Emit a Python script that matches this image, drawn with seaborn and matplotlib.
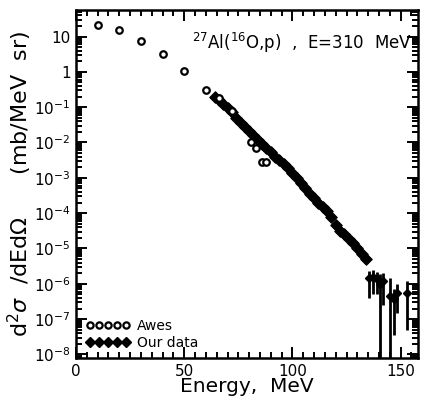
import numpy as np
import pandas as pd
import matplotlib
matplotlib.use("Agg")
import matplotlib.pyplot as plt
from matplotlib.ticker import FixedLocator, MultipleLocator, LogLocator, FuncFormatter, NullFormatter
from matplotlib.lines import Line2D
import seaborn as sns

# Awes et al. spectrum (open circles)
awes_energy = [10, 20, 30, 40, 50, 60, 66, 72, 81, 83, 86, 88]
awes_xsec = [21.0, 15.7, 7.3, 3.2, 1.07, 0.30, 0.18, 0.079, 0.0105, 0.0068, 0.0028, 0.0028]

# Present measurement, dense part of the spectrum (filled diamonds)
our_energy = [64, 66, 68, 70, 72, 74, 76, 78, 80, 82, 84, 86, 88, 90, 92, 94, 96, 98,
              100, 102, 104, 106, 108, 110, 112, 114, 116, 118, 120, 122, 124, 126,
              128, 130, 132, 134]
our_xsec = [0.195, 0.158, 0.120, 0.093, 0.071, 0.050, 0.035, 0.0275, 0.021, 0.0166,
            0.0120, 0.0089, 0.0068, 0.0054, 0.0040, 0.0032, 0.00245, 0.00186,
            0.00138, 1.0e-3, 7.2e-4, 5.0e-4, 3.5e-4, 2.6e-4, 1.9e-4, 1.45e-4,
            1.15e-4, 7.9e-5, 4.5e-5, 3.2e-5, 2.5e-5, 1.9e-5, 1.4e-5, 1.0e-5,
            7.1e-6, 5.0e-6]

# Present measurement, high-energy tail with error bars
tail_energy = [135.5, 137.0, 139.0, 140.5, 142.0, 145.0, 147.0, 148.5, 153.0]
tail_xsec = [1.5e-6, 1.6e-6, 1.4e-6, 1.0e-6, 1.2e-6, 4.5e-7, 3.6e-7, 5.5e-7, 5.5e-7]
tail_low = [4.0e-7, 5.0e-7, 5.0e-7, 1.0e-9, 2.5e-7, 1.0e-9, 3.5e-8, 1.5e-7, 5.0e-8]
tail_high = [2.3e-6, 2.4e-6, 2.2e-6, 1.9e-6, 2.0e-6, 1.5e-6, 7.0e-7, 1.0e-6, 1.2e-6]

y_major = [1e-8, 1e-7, 1e-6, 1e-5, 1e-4, 1e-3, 1e-2, 1e-1, 1, 10]
x_major = [0, 50, 100, 150]

sns.set_style("ticks")
plt.rcParams["font.family"] = ["DejaVu Sans"]
plt.rcParams.update({"text.color": "black", "axes.labelcolor": "black",
                     "xtick.color": "black", "ytick.color": "black"})

fig = plt.figure(figsize=(4.26, 3.97), dpi=100)
ax = fig.add_axes([0.1784, 0.0982, 0.8028, 0.8766])

awes = pd.DataFrame({"E": awes_energy, "xs": awes_xsec})
ours = pd.DataFrame({"E": our_energy, "xs": our_xsec})

sns.scatterplot(data=ours, x="E", y="xs", ax=ax, marker="D", s=34,
                color="black", edgecolor="black", linewidth=0.8, zorder=3)
sns.scatterplot(data=awes, x="E", y="xs", ax=ax, marker="o", s=22,
                facecolor="white", edgecolor="black", linewidth=1.6, zorder=4)

tail_xsec_a = np.array(tail_xsec)
yerr = [tail_xsec_a - np.array(tail_low), np.array(tail_high) - tail_xsec_a]
ax.errorbar(tail_energy, tail_xsec, yerr=yerr, fmt="D", ms=4, color="black",
            ecolor="black", elinewidth=2.0, capsize=0, zorder=3)

ax.set_yscale("log")
ax.set_xlim(0, 158)
ax.set_ylim(10 ** -8.1, 10 ** 1.75)

ax.xaxis.set_major_locator(FixedLocator(x_major))
ax.xaxis.set_minor_locator(MultipleLocator(5))
ax.yaxis.set_major_locator(FixedLocator(y_major))
ax.yaxis.set_minor_locator(LogLocator(base=10, subs=np.arange(2, 10), numticks=20))
ax.yaxis.set_minor_formatter(NullFormatter())


def ylab(v, pos):
    e = int(round(np.log10(v)))
    if e == 0:
        return "1"
    if e == 1:
        return "10"
    return r"$10^{%d}$" % e


ax.yaxis.set_major_formatter(FuncFormatter(ylab))

ax.tick_params(which="both", direction="in", top=True, right=True, width=1.4,
               color="black", labelcolor="black")
ax.tick_params(which="major", length=8, labelsize=11, pad=4)
ax.tick_params(which="minor", length=4)
for sp in ax.spines.values():
    sp.set_linewidth(1.8)
    sp.set_color("black")

ax.set_xlabel("Energy,  MeV", fontsize=14.5, labelpad=-1)
ax.set_ylabel(r"d$^2\sigma$  /dEd$\Omega$      (mb/MeV  sr)", fontsize=16, labelpad=0)

ax.text(0.34, 0.905, r"$^{27}$Al($^{16}$O,p)  ,  E=310  MeV", transform=ax.transAxes,
        fontsize=12, va="center", ha="left")

handles = [
    Line2D([], [], linestyle="none", marker="o", ms=4.5, mfc="white", mec="black", mew=1.6),
    Line2D([], [], linestyle="none", marker="D", ms=5, mfc="black", mec="black"),
]
ax.legend(handles, ["Awes", "Our data"], numpoints=5, handlelength=3.2,
          handletextpad=0.5, labelspacing=0.25, frameon=False, fontsize=10,
          loc="lower left", bbox_to_anchor=(0.0, -0.005), borderaxespad=0.3)

ax.set_facecolor("white")
fig.patch.set_facecolor("white")
fig.savefig("out.png", dpi=100)
